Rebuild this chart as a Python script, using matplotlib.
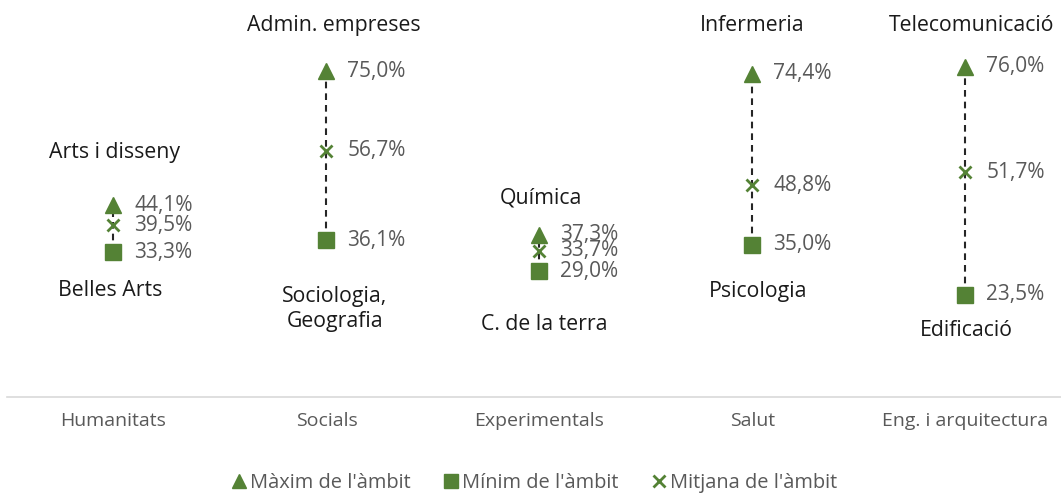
import matplotlib
matplotlib.use("Agg")
import matplotlib.pyplot as plt
from matplotlib.lines import Line2D

categories = ["Humanitats", "Socials", "Experimentals", "Salut", "Eng. i arquitectura"]
max_vals = [44.1, 75.0, 37.3, 74.4, 76.0]
min_vals = [33.3, 36.1, 29.0, 35.0, 23.5]
mean_vals = [39.5, 56.7, 33.7, 48.8, 51.7]
max_names = ["Arts i disseny", "Admin. empreses", "Química", "Infermeria", "Telecomunicació"]
min_names = ["Belles Arts", "Sociologia,\nGeografia", "C. de la terra", "Psicologia", "Edificació"]

# layout offsets (pixels) of the name labels relative to their marker
up_dx = [1, 7.5, 1, 0, 6]
up_dy = [47, 40.5, 31, 43, 36]
down_dx = [-3, 8.5, 5, 6, 1]
down_dy = [44, 87, 58.7, 52, 41]

GREEN = "#548235"
GRAY = "#595959"
TXT = "#1a1a1a"
W, H = 1061, 493
fig = plt.figure(figsize=(W / 100, H / 100), dpi=100)
ppu = 4.344
left_px, bottom_px = 7, 397
ax = fig.add_axes([left_px / W, (H - bottom_px) / H, 1065 / W, bottom_px / H])
ax.set_xlim(-0.5, 4.5)
ax.set_ylim(0, bottom_px / ppu)
for s in ["top", "right", "left"]:
    ax.spines[s].set_visible(False)
ax.spines["bottom"].set_color("#d9d9d9")
ax.spines["bottom"].set_linewidth(1.2)
ax.set_yticks([])
x = list(range(len(categories)))
ax.set_xticks(x)
ax.set_xticklabels(categories, family="Open Sans", fontsize=14, color=GRAY)
ax.tick_params(axis="x", length=0, pad=11)

for i in x:
    ax.plot([i, i], [min_vals[i], max_vals[i]], ls=(0, (3.2, 2.4)), color="#262626", lw=1.5, zorder=1)
ax.plot(x, max_vals, ls="none", marker="^", ms=12, color=GREEN, zorder=3)
ax.plot(x, min_vals, ls="none", marker="s", ms=11, color=GREEN, zorder=3)
ax.plot(x, mean_vals, ls="none", marker="x", ms=8, mew=2, color=GREEN, zorder=3)

lab_kw = dict(fontsize=15, color=GRAY, family="Open Sans", va="center", ha="left",
              textcoords="offset points")
for i in x:
    for v in (max_vals[i], min_vals[i], mean_vals[i]):
        ax.annotate(f"{v:.1f}%".replace(".", ","), (i, v), xytext=(15, 0), **lab_kw)

k = 0.72  # px -> points
for i in x:
    ax.annotate(max_names[i], (i, max_vals[i]), xytext=(up_dx[i] * k, up_dy[i] * k),
                textcoords="offset points", ha="center", va="baseline",
                fontsize=15.3, color=TXT, family="Open Sans")
    ax.annotate(min_names[i], (i, min_vals[i]), xytext=(down_dx[i] * k, -down_dy[i] * k),
                textcoords="offset points", ha="center", va="baseline",
                fontsize=15.3, color=TXT, family="Open Sans", linespacing=1.25)

handles = [
    Line2D([], [], ls="none", marker="^", ms=10, color=GREEN, label="Màxim de l'àmbit"),
    Line2D([], [], ls="none", marker="s", ms=10, color=GREEN, label="Mínim de l'àmbit"),
    Line2D([], [], ls="none", marker="x", ms=8, mew=2, color=GREEN, label="Mitjana de l'àmbit"),
]
leg = fig.legend(handles=handles, loc="center", bbox_to_anchor=(533 / W, 1 - 483 / H), ncol=3,
                 frameon=False, handletextpad=0.05, columnspacing=1.5, handlelength=1.0,
                 prop={"family": "Open Sans", "size": 14.4})
for t in leg.get_texts():
    t.set_color(GRAY)

fig.savefig("out.png", dpi=100)
